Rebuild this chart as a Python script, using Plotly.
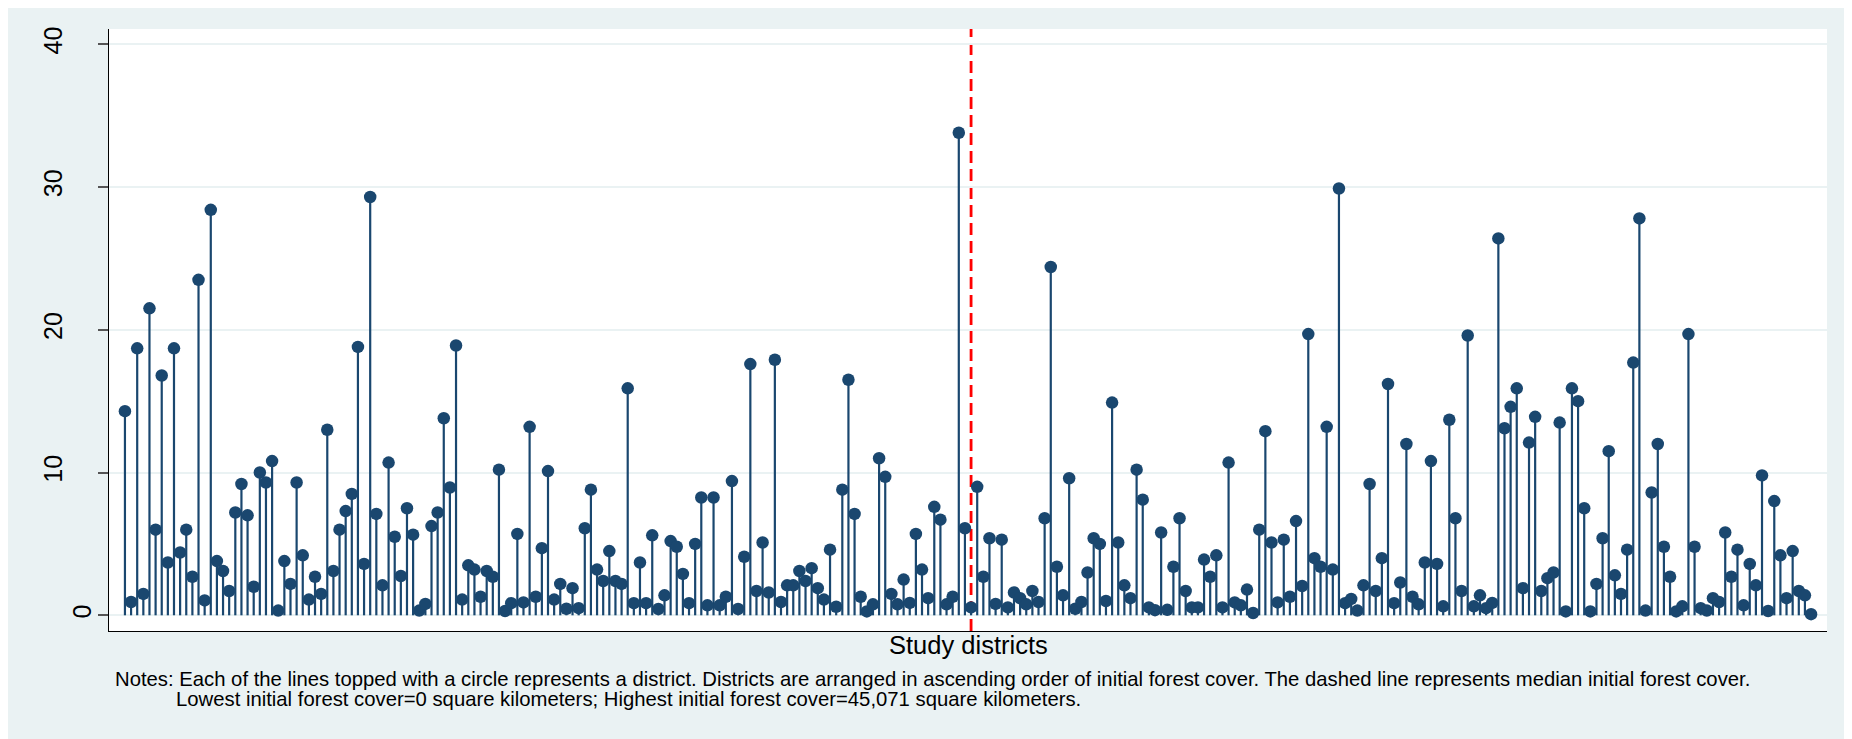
import plotly.graph_objects as go

# ---------------- data ----------------
district_index = list(range(1, 277))
forest_values = [
    14.3, 0.93, 18.7, 1.5, 21.5, 6.0, 16.8, 3.7, 18.7, 4.4,
    6.0, 2.7, 23.5, 1.04, 28.4, 3.8, 3.1, 1.7, 7.2, 9.2,
    7.0, 2.0, 10.0, 9.3, 10.8, 0.33, 3.8, 2.2, 9.3, 4.2,
    1.1, 2.7, 1.5, 13.0, 3.1, 6.0, 7.3, 8.5, 18.8, 3.6,
    29.3, 7.1, 2.1, 10.7, 5.5, 2.75, 7.5, 5.65, 0.33, 0.8,
    6.25, 7.2, 13.8, 8.95, 18.9, 1.1, 3.5, 3.2, 1.3, 3.1,
    2.7, 10.2, 0.3, 0.85, 5.7, 0.9, 13.2, 1.3, 4.7, 10.1,
    1.1, 2.2, 0.46, 1.9, 0.5, 6.1, 8.8, 3.2, 2.4, 4.5,
    2.4, 2.2, 15.9, 0.85, 3.7, 0.85, 5.6, 0.44, 1.4, 5.2,
    4.8, 2.9, 0.85, 5.0, 8.25, 0.7, 8.25, 0.7, 1.3, 9.4,
    0.44, 4.1, 17.6, 1.7, 5.1, 1.6, 17.9, 0.93, 2.1, 2.1,
    3.1, 2.4, 3.3, 1.9, 1.1, 4.6, 0.6, 8.8, 16.5, 7.1,
    1.3, 0.27, 0.77, 11.0, 9.7, 1.5, 0.77, 2.5, 0.87, 5.7,
    3.2, 1.2, 7.6, 6.7, 0.77, 1.3, 33.8, 6.1, 0.55, 9.0,
    2.7, 5.4, 0.8, 5.3, 0.55, 1.6, 1.2, 0.77, 1.7, 0.93,
    6.8, 24.4, 3.4, 1.4, 9.6, 0.46, 0.93, 3.0, 5.4, 5.0,
    1.0, 14.9, 5.1, 2.1, 1.2, 10.2, 8.1, 0.55, 0.36, 5.8,
    0.38, 3.4, 6.8, 1.7, 0.55, 0.55, 3.9, 2.7, 4.2, 0.55,
    10.7, 0.9, 0.7, 1.8, 0.16, 6.0, 12.9, 5.1, 0.9, 5.3,
    1.3, 6.6, 2.05, 19.7, 4.0, 3.4, 13.2, 3.2, 29.9, 0.85,
    1.15, 0.33, 2.1, 9.2, 1.7, 4.0, 16.2, 0.85, 2.3, 12.0,
    1.3, 0.77, 3.7, 10.8, 3.6, 0.63, 13.7, 6.8, 1.7, 19.6,
    0.63, 1.4, 0.5, 0.87, 26.4, 13.1, 14.6, 15.9, 1.9, 12.1,
    13.9, 1.7, 2.6, 3.0, 13.5, 0.27, 15.9, 15.0, 7.5, 0.27,
    2.2, 5.4, 11.5, 2.8, 1.5, 4.6, 17.7, 27.8, 0.33, 8.6,
    12.0, 4.8, 2.7, 0.27, 0.63, 19.7, 4.8, 0.5, 0.33, 1.2,
    0.93, 5.8, 2.7, 4.6, 0.7, 3.6, 2.1, 9.8, 0.3, 8.0,
    4.2, 1.2, 4.5, 1.7, 1.4, 0.08,
]
median_district = 139
y_tick_vals = [0, 10, 20, 30, 40]
y_tick_text = ["0", "10", "20", "30", "40"]
x_title = "Study districts"
notes_line1 = ("Notes: Each of the lines topped with a circle represents a district. "
               "Districts are arranged in ascending order of initial forest cover. "
               "The dashed line represents median initial forest cover.")
notes_line2 = ("Lowest initial forest cover=0 square kilometers; "
               "Highest initial forest cover=45,071 square kilometers.")

# ---------------- style ----------------
NAVY = "#1A476F"
BG = "#EAF2F3"
FONT = "Liberation Sans, Arial, Helvetica, sans-serif"
# the page body adds an 8px margin, so the figure is sized to fill the rest
W, H = 1844, 731
ML, MR, MT, MB = 101, 25, 21, 108
PW, PH = W - ML - MR, H - MT - MB


def px_x(p):
    return (p - ML) / PW


def px_y(p):
    return (H - MB - p) / PH


stem_x, stem_y = [], []
for xi, vi in zip(district_index, forest_values):
    stem_x += [xi, xi, None]
    stem_y += [0, vi, None]

fig = go.Figure()
fig.add_trace(go.Scatter(
    x=stem_x, y=stem_y, mode="lines",
    line=dict(color=NAVY, width=2.2),
    hoverinfo="skip", showlegend=False,
))
fig.add_trace(go.Scatter(
    x=district_index, y=forest_values, mode="markers",
    marker=dict(color=NAVY, size=12.5, line=dict(width=0)),
    showlegend=False,
))
# helper trace so the overlay axis carrying the "0" label is drawn
fig.add_trace(go.Scatter(x=[None], y=[None], yaxis="y2", showlegend=False,
                         hoverinfo="skip"))

fig.add_shape(type="line", xref="x", yref="paper",
              x0=median_district, x1=median_district, y0=0, y1=1,
              line=dict(color="#FF0000", width=2.8, dash="12px,6px"),
              layer="between")

yrange = [-1.1, 41.07]
fig.update_layout(
    width=W, height=H, autosize=False,
    margin=dict(l=ML, r=MR, t=MT, b=MB, pad=0),
    paper_bgcolor=BG, plot_bgcolor="white",
    font=dict(family=FONT, color="black"),
    xaxis=dict(range=[-1.6, 278.6], showgrid=False, zeroline=False,
               showticklabels=False, ticks="", showline=True,
               linecolor="black", linewidth=1.4),
    yaxis=dict(range=yrange, tickvals=y_tick_vals,
               ticktext=[""] + y_tick_text[1:],
               tickangle=-90, tickfont=dict(size=25, family=FONT),
               ticks="outside", ticklen=10, tickwidth=1.5, tickcolor="#555555",
               showgrid=True, gridcolor=BG, gridwidth=1.8, zeroline=False,
               showline=True, linecolor="black", linewidth=1.4,
               ticklabelstandoff=26),
    yaxis2=dict(range=yrange, overlaying="y", side="left",
                tickvals=[0], ticktext=[y_tick_text[0]],
                tickangle=-90, tickfont=dict(size=25, family=FONT),
                ticks="", showgrid=False, zeroline=False, showline=False,
                ticklabelstandoff=12),
    annotations=[
        dict(text=x_title, xref="paper", yref="paper",
             x=px_x(960.5), y=px_y(636.7), xanchor="center", yanchor="middle",
             showarrow=False, font=dict(size=25.5, family=FONT, color="black")),
        dict(text=notes_line1, xref="paper", yref="paper",
             x=px_x(105), y=px_y(671.5), xanchor="left", yanchor="middle",
             showarrow=False, font=dict(size=20.3, family=FONT, color="black")),
        dict(text=notes_line2, xref="paper", yref="paper",
             x=px_x(166), y=px_y(690.5), xanchor="left", yanchor="middle",
             showarrow=False, font=dict(size=20.3, family=FONT, color="black")),
    ],
)

fig.write_html("out.html")
